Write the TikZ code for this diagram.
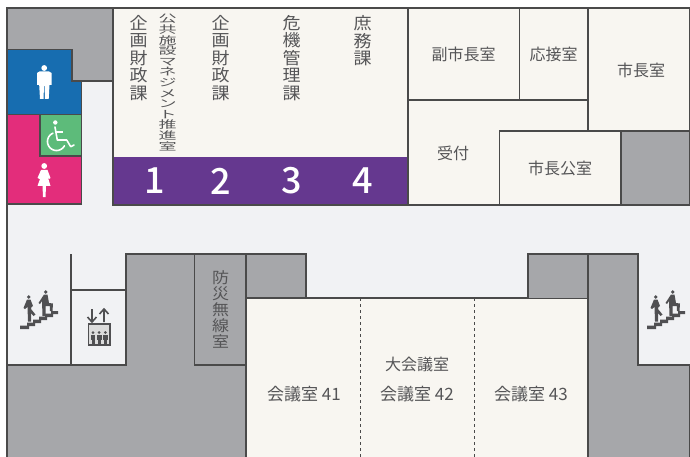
\documentclass[tikz,border=0pt]{standalone}
\usepackage{fontspec}
\setmainfont{Noto Sans CJK JP}
\newfontfamily\numfont{Noto Sans CJK JP Medium}
\definecolor{wallgray}{HTML}{A6A7AA}
\definecolor{cream}{HTML}{F8F6F1}
\definecolor{corridor}{HTML}{F1F2F4}
\definecolor{purplebar}{HTML}{65388F}
\definecolor{mensblue}{HTML}{176DB0}
\definecolor{ladypink}{HTML}{E32D7B}
\definecolor{wcgreen}{HTML}{5DBB7A}
\definecolor{wallline}{HTML}{4A4A4A}
\definecolor{labeltext}{HTML}{555557}
\definecolor{icondark}{HTML}{505052}
\tikzset{
  wall/.style={draw=wallline,line width=1.2pt,line join=miter},
  lbl/.style={text=labeltext,font=\fontsize{16}{17}\selectfont,inner sep=0pt,align=center},
  roomnum/.style={text=labeltext,font=\fontsize{17}{17}\selectfont,inner sep=0pt,align=center},
  vlbl/.style={text=labeltext,font=\fontsize{18}{18.9}\selectfont,inner sep=0pt,align=center,transform shape,yscale=0.93},
  vsquash/.style={text=labeltext,font=\fontsize{18}{18.3}\selectfont,inner sep=0pt,align=center,transform shape,yscale=0.58},
  vnarrow/.style={text=labeltext,font=\fontsize{17}{17.9}\selectfont,inner sep=0pt,align=center,transform shape,yscale=0.9},
  num/.style={text=white,font=\numfont\fontsize{36}{36}\selectfont,inner sep=0pt},
  divider/.style={draw=wallline,line width=1pt,dash pattern=on 3pt off 3pt},
}
\newcommand{\stairsicon}[1]{%
 \begin{scope}[shift={(#1,0)}]
  \fill[icondark] (20,329) -- (20,325.5) -- (27,325.5) -- (27,322.5) -- (33,322.5) -- (33,319.5) -- (39,319.5) -- (39,316.5) -- (45,316.5) -- (45,313.5) -- (51,313.5) -- (51,311) -- (58,311) -- (58,314) -- (53,314) -- (53,317) -- (47,317) -- (47,320) -- (41,320) -- (41,323) -- (35,323) -- (35,326) -- (29,326) -- (29,329) -- cycle;
  \fill[icondark] (28.7,297) circle (1.9);
  \fill[icondark] (27,299.5) -- (30.5,299.5) -- (33,306) -- (31.5,307) -- (31,309) -- (35.5,314.5) -- (33.5,316) -- (31,313) -- (31,321.5) -- (28,321.5) -- (27.5,307) -- (25,309) -- (23.5,308) -- cycle;
  \fill[icondark] (45.7,292) circle (1.9);
  \fill[icondark] (44,294.5) -- (47.5,294.5) -- (49,303) -- (53,303.5) -- (52.5,311) -- (50,311) -- (49.8,306) -- (45.5,306) -- (45.5,316) -- (42.5,316) -- (42,301) -- (40,304) -- (38.5,303) -- cycle;
 \end{scope}}
\newcommand{\liftperson}[1]{%
  \fill[icondark] (#1,332.5) circle (1.5);
  \fill[icondark] (#1-2.4,334.5) rectangle (#1+2.4,340);
  \fill[icondark] (#1-1.5,340) rectangle (#1+1.5,344);}
\begin{document}
\begin{tikzpicture}[x=1pt,y=-1pt]
\useasboundingbox (0,0) rectangle (690,457);
\fill[white] (0,0) rectangle (690,457);
% corridor
\fill[corridor] (7,8) rectangle (690,457);
\draw[wall] (690,8) -- (7,8) -- (7,457);
% top left
\draw[wall,fill=wallgray] (7,8) -- (112.5,8) -- (112.5,81) -- (72,81) -- (72,49.5) -- (7,49.5) -- cycle;
\draw[wall,fill=mensblue] (7,49.5) -- (72,49.5) -- (72,81) -- (81.5,81) -- (81.5,114.5) -- (7,114.5) -- cycle;
\draw[wall,fill=ladypink] (7,114.5) rectangle (81.5,204);
\draw[wall,fill=wcgreen] (40,114.5) rectangle (81.5,156);
% man
\fill[white] (44.2,68) circle (2.9);
\fill[white] (39.5,71.5) -- (49,71.5) -- (51.5,73) -- (51.5,85) -- (49.5,85) -- (48.7,99) -- (45,99) -- (44.5,86) -- (44,86) -- (43.5,99) -- (40,99) -- (39.2,85) -- (37,85) -- (37,73) -- cycle;
% woman
\fill[white] (44.2,166) circle (2.9);
\fill[white] (41,170) -- (47.5,170) -- (50.5,178) -- (49,179) -- (47.5,176) -- (50.5,186) -- (46,186) -- (45.5,197) -- (43,197) -- (42.5,186) -- (37.5,186) -- (41,176) -- (39.5,179) -- (37.5,178) -- cycle;
% wheelchair
\fill[white] (55.3,122.5) circle (2.2);
\draw[white,line width=1.6pt,line cap=round,line join=round] (55,127) -- (57.3,140) -- (66.7,140) -- (70.7,146.7) -- (74,145);
\draw[white,line width=1.4pt] (56,132) -- (63,132);
\draw[white,line width=1.6pt,line cap=round] plot[domain=113:332,samples=40,smooth] ({56.5+9*cos(\x)},{141.5-9*sin(\x)});
% offices
\draw[wall,fill=cream] (113,8) rectangle (408,205);
\fill[purplebar] (113,157) rectangle (408,205);
\draw[wall] (113,205) -- (113,8) -- (408,8) -- (408,205) -- cycle;
\node[vlbl] (a1) at (138.5,58) {企\\画\\財\\政\\課};
\node[vsquash] (a2) at (167.5,82.5) {公\\共\\施\\設\\マ\\ネ\\ジ\\メ\\ン\\ト\\推\\進\\室};
\node[vlbl] (a3) at (220.5,58) {企\\画\\財\\政\\課};
\node[vlbl] (a4) at (291.5,58) {危\\機\\管\\理\\課};
\node[vlbl] (a5) at (362.5,41) {庶\\務\\課};
\node[num] (n1) at (154.5,181) {1};
\node[num] (n2) at (221,181) {2};
\node[num] (n3) at (291.5,181) {3};
\node[num] (n4) at (362.5,181) {4};
% right rooms
\draw[wall,fill=cream] (408,8) rectangle (690,205);
\draw[wall] (408,100) -- (588,100);
\draw[wall] (519.5,8) -- (519.5,100);
\draw[wall] (588,8) -- (588,131);
\draw[wall] (499.5,205) -- (499.5,131) -- (690,131);
\draw[wall,fill=wallgray] (621,131) rectangle (690,205);
\draw[wall] (499.5,131) -- (621,131) -- (621,205);
\node[lbl] (b1) at (463.5,54.5) {副市長室};
\node[lbl] (b2) at (553.5,54.5) {応接室};
\node[lbl] (b3) at (641,70.5) {市長室};
\node[lbl] (b4) at (453,153.5) {受付};
\node[lbl] (b5) at (560,168.5) {市長公室};
% lower left
\draw[wall,fill=wallgray] (7,457) -- (7,365) -- (126,365) -- (126,254) -- (246,254) -- (246,457);
\draw[wall] (71,254) -- (71,365);
\draw[wall] (71,290) -- (126,290);
\draw[wall] (194.5,254) -- (194.5,365) -- (246,365);
\draw[wall,fill=wallgray] (246,298) -- (246,254) -- (306,254) -- (306,298);
\node[vnarrow] (c1) at (220.5,309.5) {防\\災\\無\\線\\室};
% conference
\draw[wall,fill=cream] (246,457) -- (246,298) -- (588,298) -- (588,457);
\draw[divider] (360.5,298) -- (360.5,457);
\draw[divider] (474,298) -- (474,457);
\node[roomnum] (d1) at (304,394.5) {会議室 41};
\node[roomnum] (d2) at (417,394.5) {会議室 42};
\node[roomnum] (d3) at (531,394.5) {会議室 43};
\node[lbl] (d4) at (417,364.5) {大会議室};
% lower right
\draw[wall,fill=wallgray] (528,298) -- (528,254) -- (588,254) -- (588,298);
\draw[wall,fill=wallgray] (588,457) -- (588,254) -- (638,254) -- (638,365) -- (690,365) -- (690,457);
% stairs
\stairsicon{0}
\stairsicon{627}
% lift
\draw[icondark,line width=1.6pt] (92,309) -- (92,322) (87.5,317) -- (92,322) -- (96.5,317);
\draw[icondark,line width=1.6pt] (104,322) -- (104,309) (99.5,314) -- (104,309) -- (108.5,314);
\draw[icondark,line width=1.8pt,fill=white!80!icondark] (88.5,324) rectangle (110,345);
\liftperson{93}
\liftperson{99.2}
\liftperson{105.4}
\end{tikzpicture}
\end{document}
